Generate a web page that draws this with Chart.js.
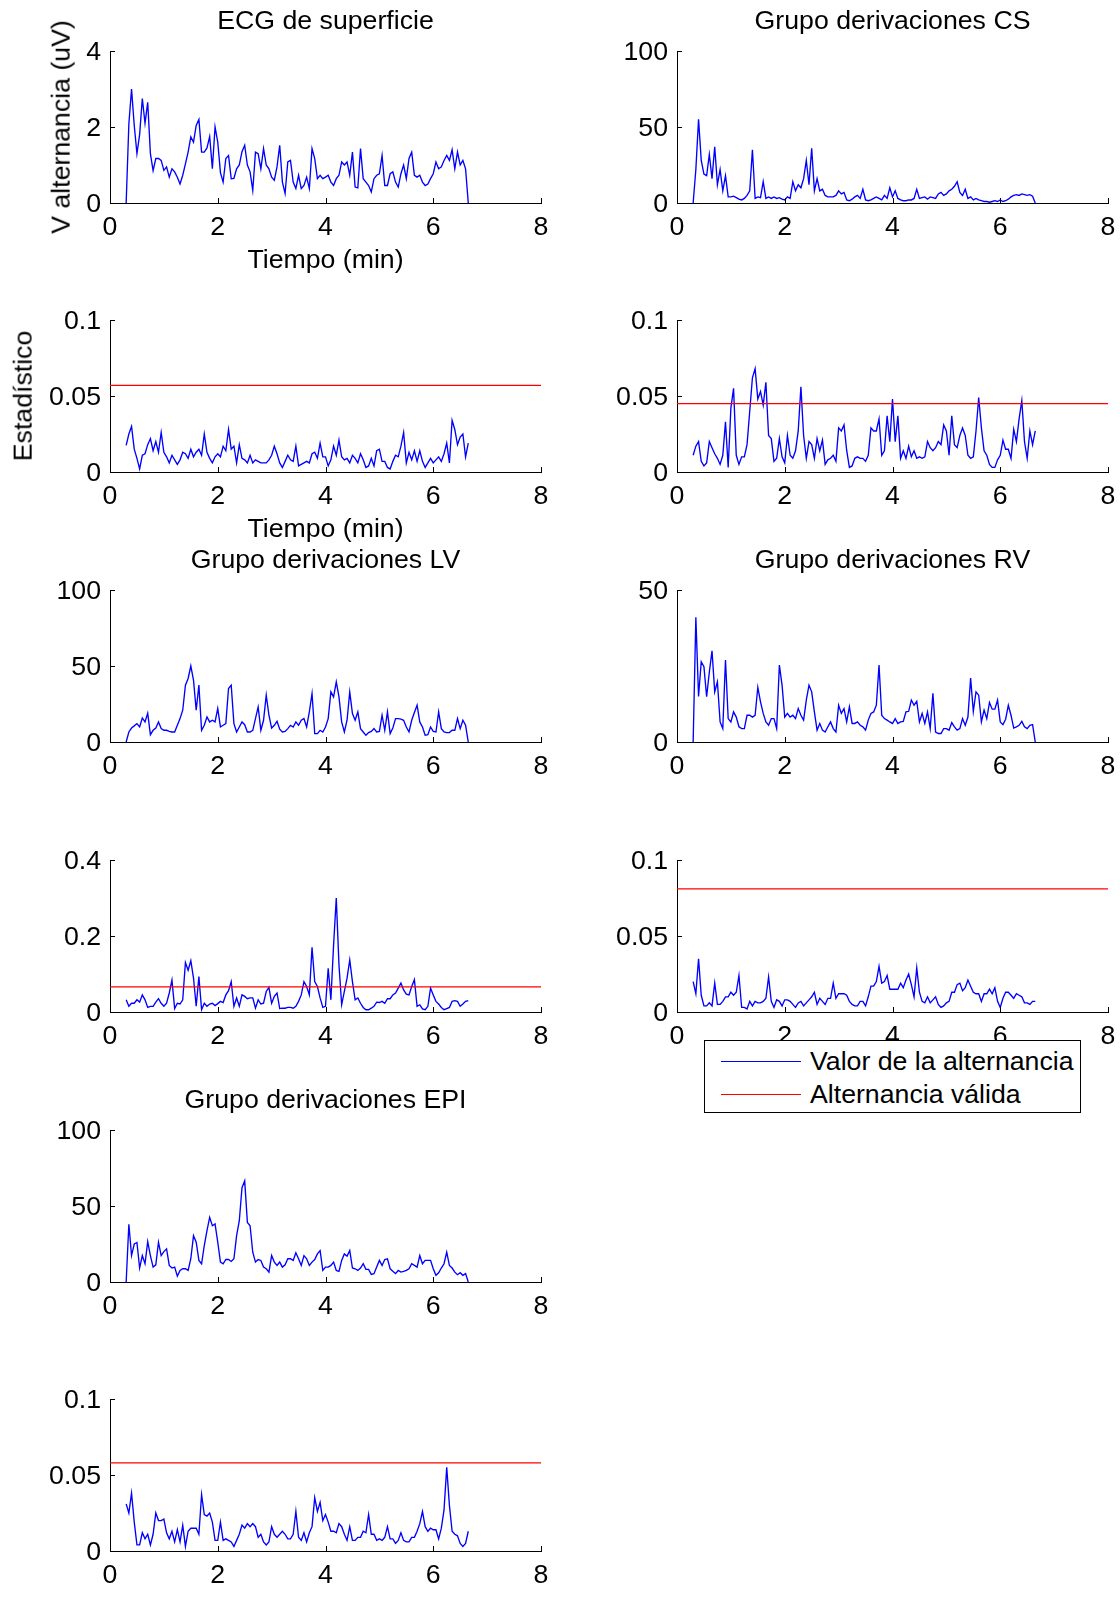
<!DOCTYPE html>
<html>
<head>
<meta charset="utf-8">
<title>Alternancia de onda T</title>
<script src="https://cdn.jsdelivr.net/npm/chart.js@4.4.1/dist/chart.umd.min.js"></script>
<style>
  html, body { margin: 0; padding: 0; background: #fff; }
  #fig { position: relative; width: 1120px; height: 1597px; overflow: hidden;
         font-family: "Liberation Sans", Arial, Helvetica, sans-serif; color: #000; }
  #fig canvas { position: absolute; }
  .txt { position: absolute; font-size: 26.7px; line-height: 1; white-space: nowrap;
         transform: translate(-50%, -50%); }
  .vtxt { transform: translate(-50%, -50%) rotate(-90deg); }
  #legend { position: absolute; left: 704px; top: 1040px; width: 377px; height: 73px;
            box-sizing: border-box; border: 1px solid #000; background: #fff; z-index: 5; }
  #legend .row { position: absolute; left: 0; right: 0; height: 30px; }
  #legend .swatch { position: absolute; left: 16px; width: 80px; top: 50%; height: 0; border-top: 1px solid; }
  #legend .name { position: absolute; left: 105px; top: 50%; transform: translateY(-50%);
                  font-size: 26.7px; line-height: 1; white-space: nowrap; }
</style>
</head>
<body>
<div id="fig"></div>
<script>
// Time axis shared by every trace (minutes)
const timeMin = [
  0.30,0.35,0.40,0.45,0.50,0.55,0.60,0.65,0.70,0.75,
  0.80,0.85,0.90,0.95,1.00,1.05,1.10,1.15,1.20,1.25,
  1.30,1.35,1.40,1.45,1.50,1.55,1.60,1.65,1.70,1.75,
  1.80,1.85,1.90,1.95,2.00,2.05,2.10,2.15,2.20,2.25,
  2.30,2.35,2.40,2.45,2.50,2.55,2.60,2.65,2.70,2.75,
  2.80,2.85,2.90,2.95,3.00,3.05,3.10,3.15,3.20,3.25,
  3.30,3.35,3.40,3.45,3.50,3.55,3.60,3.65,3.70,3.75,
  3.80,3.85,3.90,3.95,4.00,4.05,4.10,4.15,4.20,4.25,
  4.30,4.35,4.40,4.45,4.50,4.55,4.60,4.65,4.70,4.75,
  4.80,4.85,4.90,4.95,5.00,5.05,5.10,5.15,5.20,5.25,
  5.30,5.35,5.40,5.45,5.50,5.55,5.60,5.65,5.70,5.75,
  5.80,5.85,5.90,5.95,6.00,6.05,6.10,6.15,6.20,6.25,
  6.30,6.35,6.40,6.45,6.50,6.55,6.60,6.65
];

// Alternans voltage (uV) per lead group
const ecgAlt = [
  0,2.08,3.0,2.04,1.3,1.8,2.75,2.1,2.65,1.3,
  0.85,1.17,1.17,1.12,0.86,0.95,0.68,0.9,0.82,0.68,
  0.5,0.73,1.03,1.34,1.74,1.6,2.04,2.2,1.34,1.34,
  1.45,1.75,0.9,2.0,1.6,0.8,0.55,1.17,1.25,0.64,
  0.65,0.9,1.0,1.35,1.52,1.0,0.82,0.33,1.34,1.3,
  0.9,1.43,1.0,0.9,0.68,0.6,0.95,1.52,0.55,0.25,
  1.08,1.12,0.55,0.38,0.73,0.38,0.46,0.68,0.38,1.43,
  1.17,0.64,0.73,0.64,0.68,0.73,0.55,0.46,0.64,0.73,
  1.08,1.0,1.08,0.73,1.34,0.42,0.4,1.43,0.64,0.55,
  0.46,0.29,0.64,0.73,0.77,1.25,0.46,0.46,0.77,0.82,
  0.55,0.42,0.77,1.0,0.64,1.17,1.34,0.73,0.68,0.73,
  0.55,0.46,0.5,0.64,0.77,1.08,0.9,0.95,1.12,1.25,
  1.12,1.4,0.9,1.34,1.0,1.12,0.9,0
];
const csAlt = [
  0,22,55,28,19,18,32,16,37,12,
  22,8,18,4,4,4.5,3.5,2.5,2,3,
  5,8,35,3,4,3.5,14,3,4,3,
  4,3,3.5,2.5,2,4,3,14,8,12,
  10,16,28,12,36,8,16,8,9,5,
  4,4,4,5,8,6,7,2,1.5,2.5,
  4,5,3,9,2,1.5,2,3,4,3,
  2,5,3,10,4,8,3,2,1.5,1.5,
  2,2,3,9,3,3.5,4,2.5,4,3.5,
  3,6,7,5,6,8,9,11,14,7,
  5,9,3,4,2,3,2,1.5,1,1,
  0.5,1,1.5,1,2,1,1.5,2.5,4,5,
  5.5,5,6,5.5,5,5.5,4.5,0
];
const lvAlt = [
  0,6.6,9.2,10.6,12.1,9.9,15.8,13.2,19,4.8,
  7.7,9.2,13.2,8.8,7.7,7.7,7.0,6.6,6.6,11,
  15.4,20.9,37.4,41.8,50,40.7,20.9,37.4,7.7,11,
  16.5,13.2,14.3,13.2,22,9.9,11,12.1,35.2,37.4,
  12.1,6.6,9.9,13.2,11.4,6.6,6.6,7.7,15.4,23.1,
  7.7,14.3,30.8,17.6,9.2,11,13.6,8.4,6.6,7.0,
  8.8,11,9.9,13.2,11,14.3,15.4,9.9,19.8,31.9,
  5.5,5.5,7.7,6.6,9.9,15.4,33,29.7,39.6,29.7,
  13.2,6.6,14.3,33,18.7,14.3,19.8,8.8,6.6,4.4,
  6.2,7.0,8.8,6.6,7.0,17.6,7.7,19.8,5.5,9.2,
  15.4,15.4,15,14.3,9.9,6.6,14.3,19.4,24.2,13.2,
  9.9,4.4,4.8,9.9,7.0,6.6,19.8,8.8,6.6,6.2,
  6.2,7.7,7.7,15.4,8.8,14.3,11,0
];
const rvAlt = [
  0,41,15,26.4,24.8,14.9,23,30,16.5,19.8,
  6.6,4.4,27,7.7,6.6,9.9,8.2,5.0,4.4,4.4,
  8.8,8.8,8.2,8.8,18,13.2,9.4,6.6,5.5,7.7,
  7.7,4.4,25.3,18.7,8.2,9.4,8.2,8.8,7.7,11,
  8.8,7.2,13.8,18.7,16.5,9.9,3.9,6.1,3.9,3.3,
  5.0,6.6,4.4,3.3,12.1,9.4,11,6.6,11.6,6.1,
  6.1,6.6,5.5,5.0,3.9,7.2,9.4,9.9,12.1,25.3,
  8.8,7.7,7.2,6.6,6.1,7.7,6.1,6.6,6.8,9.9,
  10.1,13.8,12.1,13.4,6.6,9.4,6.1,9.9,4.4,16,
  3.3,2.8,2.8,4.4,4.4,3.9,6.4,5.0,3.9,4.4,
  7.7,5.5,8.2,21,10,16.5,15.4,6.6,10.5,7.7,
  13,10.8,10.8,13.8,6.6,5.7,7.5,12.1,8.8,4.6,
  5.0,5.5,6.8,5.0,4.4,5.5,5.7,0
];
const epiAlt = [
  0,38,17.4,25,26,9.2,17.4,12,26.6,17.4,
  9.8,11.3,26.2,17.4,20,21.8,10.9,9.2,9.8,3.9,
  7.6,8.7,8.7,7.6,15.3,30.5,26.2,14.2,12,24,
  33.8,42.5,37,38.2,26.2,13.1,12,14.8,14.8,13.5,
  15.3,30.5,40.3,62,66.5,39.2,37,19.6,13.1,14.8,
  14.2,9.8,8.7,6.5,17.4,13.1,10.9,13.1,9.8,11.3,
  15.3,15.3,14.2,19.2,15.3,10.9,17.4,15.3,10.9,13.1,
  14.8,18.5,20.7,7.6,9.8,9.8,10.9,13.1,7.6,7.0,
  14.2,18.5,17,20.7,9.2,8.7,7.6,9.2,12,8.3,
  8.3,5,5.5,9.8,14.2,10.9,14.8,15.3,8.7,7,
  5.5,7.6,6.5,7,7.6,8.7,12,10.9,9.8,17.4,
  12,14.2,14.2,14.2,8.7,4.4,6.1,9.2,12,19.6,
  10.9,9.2,6.5,4.8,6.1,4.4,5.5,0
];

// Test statistic per lead group
const ecgStat = [
  0.0175,0.025,0.030,0.015,0.009,0.002,0.011,0.012,0.018,0.022,
  0.014,0.020,0.013,0.026,0.013,0.010,0.006,0.011,0.008,0.005,
  0.008,0.013,0.012,0.009,0.015,0.010,0.013,0.015,0.011,0.025,
  0.013,0.009,0.006,0.010,0.012,0.010,0.017,0.014,0.028,0.015,
  0.017,0.006,0.018,0.009,0.008,0.006,0.011,0.006,0.008,0.007,
  0.006,0.006,0.006,0.008,0.011,0.017,0.012,0.006,0.003,0.007,
  0.011,0.008,0.007,0.017,0.004,0.005,0.006,0.007,0.006,0.012,
  0.013,0.009,0.019,0.010,0.010,0.004,0.008,0.017,0.011,0.021,
  0.010,0.008,0.009,0.006,0.011,0.009,0.006,0.012,0.008,0.003,
  0.004,0.009,0.004,0.014,0.015,0.007,0.007,0.003,0.002,0.007,
  0.011,0.010,0.017,0.026,0.006,0.013,0.008,0.014,0.007,0.014,
  0.007,0.003,0.006,0.009,0.006,0.008,0.010,0.007,0.012,0.019,
  0.006,0.034,0.028,0.018,0.023,0.025,0.010,0.019
];
const csStat = [
  0.011,0.017,0.020,0.007,0.004,0.006,0.020,0.016,0.012,0.009,
  0.005,0.011,0.033,0.003,0.042,0.055,0.011,0.005,0.010,0.010,
  0.018,0.040,0.062,0.068,0.048,0.053,0.044,0.059,0.024,0.022,
  0.007,0.009,0.022,0.010,0.006,0.024,0.011,0.009,0.014,0.027,
  0.056,0.024,0.009,0.020,0.018,0.009,0.022,0.014,0.021,0.005,
  0.008,0.009,0.011,0.007,0.029,0.027,0.031,0.014,0.003,0.004,
  0.009,0.010,0.009,0.009,0.007,0.011,0.029,0.027,0.027,0.035,
  0.011,0.014,0.037,0.020,0.048,0.020,0.037,0.009,0.014,0.009,
  0.017,0.010,0.014,0.009,0.010,0.009,0.010,0.020,0.016,0.014,
  0.016,0.020,0.018,0.031,0.027,0.011,0.037,0.018,0.016,0.024,
  0.029,0.024,0.011,0.009,0.010,0.027,0.049,0.029,0.014,0.011,
  0.005,0.003,0.003,0.008,0.011,0.021,0.015,0.015,0.009,0.028,
  0.020,0.035,0.047,0.020,0.009,0.027,0.018,0.027
];
const lvStat = [
  0.032,0.015,0.023,0.023,0.032,0.026,0.045,0.032,0.012,0.015,
  0.015,0.026,0.035,0.023,0.015,0.023,0.050,0.084,0.009,0.023,
  0.021,0.032,0.130,0.110,0.135,0.089,0.015,0.093,0.006,0.023,
  0.015,0.021,0.023,0.017,0.022,0.028,0.025,0.045,0.056,0.080,
  0.015,0.037,0.015,0.045,0.041,0.035,0.037,0.037,0.010,0.032,
  0.021,0.023,0.054,0.065,0.023,0.041,0.050,0.009,0.010,0.010,
  0.012,0.012,0.010,0.015,0.028,0.045,0.080,0.067,0.045,0.170,
  0.080,0.067,0.037,0.012,0.015,0.115,0.032,0.176,0.300,0.124,
  0.019,0.054,0.089,0.137,0.080,0.032,0.037,0.023,0.012,0.006,
  0.006,0.010,0.015,0.026,0.025,0.028,0.023,0.035,0.035,0.045,
  0.050,0.063,0.076,0.058,0.047,0.045,0.067,0.085,0.015,0.019,
  0.008,0.006,0.015,0.063,0.045,0.028,0.021,0.012,0.006,0.009,
  0.012,0.028,0.030,0.028,0.015,0.021,0.028,0.030
];
const rvStat = [
  0.020,0.012,0.035,0.011,0.004,0.004,0.006,0.004,0.019,0.005,
  0.005,0.007,0.010,0.010,0.013,0.011,0.013,0.024,0.003,0.003,
  0.002,0.007,0.004,0.007,0.006,0.006,0.007,0.009,0.023,0.007,
  0.003,0.008,0.007,0.004,0.008,0.008,0.007,0.005,0.003,0.006,
  0.007,0.004,0.006,0.008,0.010,0.013,0.005,0.009,0.007,0.005,
  0.009,0.009,0.019,0.009,0.012,0.012,0.012,0.011,0.007,0.005,
  0.004,0.004,0.007,0.007,0.004,0.010,0.017,0.017,0.020,0.030,
  0.019,0.020,0.024,0.015,0.015,0.015,0.015,0.019,0.016,0.021,
  0.025,0.018,0.010,0.029,0.013,0.007,0.006,0.010,0.006,0.008,
  0.010,0.005,0.003,0.004,0.006,0.007,0.013,0.013,0.018,0.019,
  0.014,0.016,0.021,0.017,0.013,0.012,0.012,0.007,0.012,0.012,
  0.015,0.012,0.016,0.007,0.003,0.009,0.013,0.013,0.011,0.009,
  0.012,0.011,0.010,0.006,0.006,0.005,0.007,0.007
];
const epiStat = [
  0.031,0.025,0.038,0.019,0.004,0.004,0.012,0.008,0.011,0.004,
  0.011,0.025,0.020,0.020,0.021,0.012,0.008,0.013,0.006,0.014,
  0.006,0.017,0.003,0.013,0.015,0.015,0.015,0.011,0.037,0.024,
  0.023,0.025,0.019,0.007,0.007,0.019,0.007,0.008,0.007,0.006,
  0.003,0.007,0.011,0.017,0.015,0.018,0.016,0.018,0.016,0.009,
  0.011,0.006,0.004,0.006,0.016,0.011,0.009,0.011,0.013,0.011,
  0.008,0.008,0.011,0.026,0.009,0.007,0.012,0.006,0.012,0.016,
  0.035,0.026,0.032,0.020,0.024,0.019,0.013,0.013,0.012,0.018,
  0.016,0.011,0.007,0.016,0.007,0.007,0.009,0.009,0.013,0.012,
  0.024,0.011,0.011,0.007,0.008,0.007,0.009,0.016,0.008,0.008,
  0.005,0.007,0.012,0.007,0.006,0.006,0.009,0.009,0.013,0.018,
  0.026,0.016,0.013,0.015,0.014,0.014,0.008,0.015,0.027,0.055,
  0.030,0.013,0.011,0.010,0.005,0.003,0.005,0.013
];

// Validity threshold for each statistic
const ecgThreshold = 0.057;
const csThreshold  = 0.045;
const lvThreshold  = 0.066;
const rvThreshold  = 0.081;
const epiThreshold = 0.058;

// Tick labels
const timeTicks = [0, 2, 4, 6, 8];
const uvTicks   = [0, 2, 4];
const ticks100  = [0, 50, 100];
const ticks50   = [0, 50];
const statTicks = [0, 0.05, 0.1];
const stat04Ticks = [0, 0.2, 0.4];

// ---- figure layout ----
const COL_X = [110, 677];                       // left edge of plot area per column
const ROW_Y = [51, 320, 590, 860, 1130, 1399];  // top edge of plot area per row
const AX_W = 431, AX_H = 152;
const LM = 100, TM = 40, RM = 30, BM = 50;      // canvas margins around the plot area
const FONT = { family: '"Liberation Sans", Arial, Helvetica, sans-serif', size: 26.7 };
const BLUE = '#0000ff', RED = '#ff0000';

const panels = [
  { col: 0, row: 0, values: ecgAlt, yTicks: uvTicks },
  { col: 1, row: 0, values: csAlt,  yTicks: ticks100 },
  { col: 0, row: 1, values: ecgStat, yTicks: statTicks, threshold: ecgThreshold },
  { col: 1, row: 1, values: csStat,  yTicks: statTicks, threshold: csThreshold },
  { col: 0, row: 2, values: lvAlt,  yTicks: ticks100 },
  { col: 1, row: 2, values: rvAlt,  yTicks: ticks50 },
  { col: 0, row: 3, values: lvStat, yTicks: stat04Ticks, threshold: lvThreshold },
  { col: 1, row: 3, values: rvStat, yTicks: statTicks, threshold: rvThreshold },
  { col: 0, row: 4, values: epiAlt, yTicks: ticks100 },
  { col: 0, row: 5, values: epiStat, yTicks: statTicks, threshold: epiThreshold }
];

// MATLAB-style tick marks pointing into the plot area
const inwardTicks = {
  id: 'inwardTicks',
  afterDraw(chart) {
    const { ctx, chartArea: { left, bottom }, scales: { x, y } } = chart;
    ctx.save();
    ctx.strokeStyle = '#000';
    ctx.lineWidth = 1;
    ctx.beginPath();
    x.ticks.forEach(t => {
      const px = Math.round(x.getPixelForValue(t.value)) + 0.5;
      ctx.moveTo(px, bottom); ctx.lineTo(px, bottom - 5);
    });
    y.ticks.forEach(t => {
      const py = Math.round(y.getPixelForValue(t.value)) + 0.5;
      ctx.moveTo(left, py); ctx.lineTo(left + 5, py);
    });
    ctx.stroke();
    ctx.restore();
  }
};

const fig = document.getElementById('fig');

function fmt(v) { return String(Number(v.toFixed(3))); }

panels.forEach(p => {
  const cv = document.createElement('canvas');
  cv.width = LM + AX_W + RM;
  cv.height = TM + AX_H + BM;
  cv.style.left = (COL_X[p.col] - LM) + 'px';
  cv.style.top = (ROW_Y[p.row] - TM) + 'px';
  fig.appendChild(cv);

  const datasets = [{
    data: timeMin.map((t, k) => ({ x: t, y: p.values[k] })),
    borderColor: BLUE, borderWidth: 1.35, pointRadius: 0, tension: 0, fill: false, order: 1
  }];
  if (p.threshold !== undefined) {
    datasets.push({
      data: [{ x: timeTicks[0], y: p.threshold }, { x: timeTicks[timeTicks.length - 1], y: p.threshold }],
      borderColor: RED, borderWidth: 1.3, pointRadius: 0, fill: false, order: 0
    });
  }
  const yMax = p.yTicks[p.yTicks.length - 1];

  new Chart(cv, {
    type: 'line',
    data: { datasets },
    plugins: [inwardTicks],
    options: {
      responsive: false,
      animation: false,
      devicePixelRatio: 1,
      layout: { padding: { left: 0, top: TM, right: RM, bottom: 0 } },
      plugins: { legend: { display: false }, tooltip: { enabled: false }, title: { display: false } },
      scales: {
        x: {
          type: 'linear', min: timeTicks[0], max: timeTicks[timeTicks.length - 1],
          afterBuildTicks: s => { s.ticks = timeTicks.map(v => ({ value: v })); },
          afterFit: s => { s.height = BM; },
          ticks: { color: '#000', font: FONT, padding: 9, maxRotation: 0, autoSkip: false, callback: v => fmt(v) },
          grid: { display: false, drawTicks: false },
          border: { display: true, color: '#000', width: 1 }
        },
        y: {
          type: 'linear', min: 0, max: yMax,
          afterBuildTicks: s => { s.ticks = p.yTicks.map(v => ({ value: v })); },
          afterFit: s => { s.width = LM; },
          ticks: { color: '#000', font: FONT, padding: 9, labelOffset: 2, autoSkip: false, callback: v => fmt(v) },
          grid: { display: false, drawTicks: false },
          border: { display: true, color: '#000', width: 1 }
        }
      }
    }
  });
});

// Titles and axis labels
function addText(str, x, y, vertical) {
  const d = document.createElement('div');
  d.className = 'txt' + (vertical ? ' vtxt' : '');
  d.textContent = str;
  d.style.left = x + 'px';
  d.style.top = y + 'px';
  fig.appendChild(d);
}
const cx = c => COL_X[c] + AX_W / 2;
addText('ECG de superficie', cx(0), ROW_Y[0] - 31);
addText('Grupo derivaciones CS', cx(1), ROW_Y[0] - 31);
addText('Grupo derivaciones LV', cx(0), ROW_Y[2] - 31);
addText('Grupo derivaciones RV', cx(1), ROW_Y[2] - 31);
addText('Grupo derivaciones EPI', cx(0), ROW_Y[4] - 31);
addText('Tiempo (min)', cx(0), ROW_Y[0] + AX_H + 56);
addText('Tiempo (min)', cx(0), ROW_Y[1] + AX_H + 56);
addText('V alternancia (uV)', 61, ROW_Y[0] + AX_H / 2, true);
addText('Estadístico', 23, ROW_Y[1] + AX_H / 2, true);

// Legend box
const legend = document.createElement('div');
legend.id = 'legend';
[['Valor de la alternancia', BLUE, 5], ['Alternancia válida', RED, 38]].forEach(([name, color, top]) => {
  const row = document.createElement('div');
  row.className = 'row';
  row.style.top = top + 'px';
  const sw = document.createElement('span');
  sw.className = 'swatch';
  sw.style.borderTopColor = color;
  const nm = document.createElement('span');
  nm.className = 'name';
  nm.textContent = name;
  row.appendChild(sw);
  row.appendChild(nm);
  legend.appendChild(row);
});
fig.appendChild(legend);
</script>
</body>
</html>
